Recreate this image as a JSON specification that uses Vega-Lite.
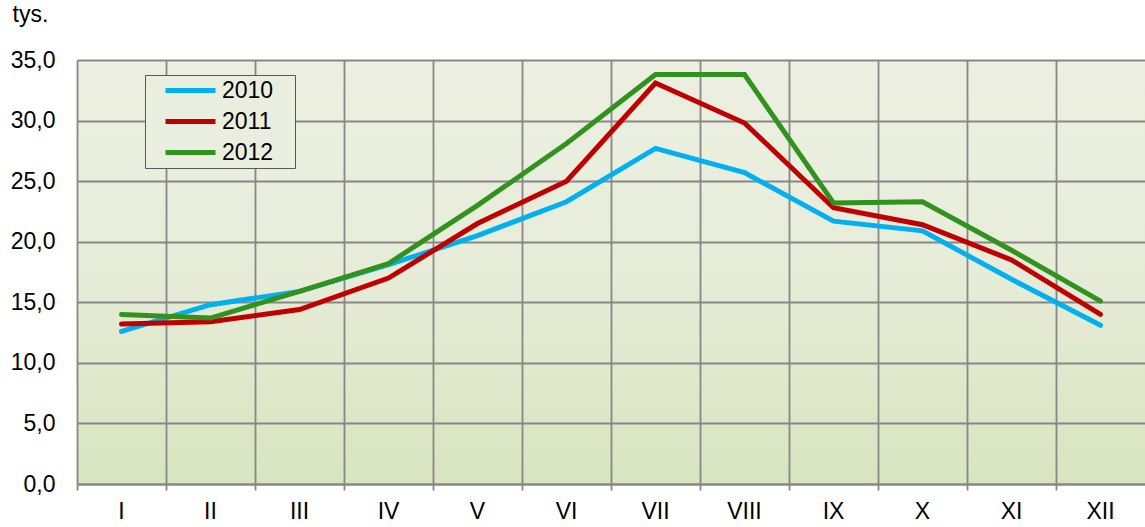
{
  "$schema": "https://vega.github.io/schema/vega-lite/v6.json",
  "width": 1068,
  "height": 424,
  "autosize": {"type": "none"},
  "padding": {"left": 77, "top": 60, "right": 0, "bottom": 43},
  "background": "#ffffff",
  "config": {
    "font": "Liberation Sans",
    "view": {
      "stroke": null,
      "fill": {
        "gradient": "linear",
        "x1": 0, "y1": 0, "x2": 0, "y2": 1,
        "stops": [
          {"offset": 0, "color": "#ECEFE1"},
          {"offset": 0.45, "color": "#E8EDDA"},
          {"offset": 1, "color": "#D8E4BF"}
        ]
      }
    }
  },
  "data": {
    "values": [
      {"month": "I", "year": "2010", "value": 12.6},
      {"month": "II", "year": "2010", "value": 14.8},
      {"month": "III", "year": "2010", "value": 15.9},
      {"month": "IV", "year": "2010", "value": 18.1},
      {"month": "V", "year": "2010", "value": 20.5},
      {"month": "VI", "year": "2010", "value": 23.3},
      {"month": "VII", "year": "2010", "value": 27.7},
      {"month": "VIII", "year": "2010", "value": 25.7},
      {"month": "IX", "year": "2010", "value": 21.7},
      {"month": "X", "year": "2010", "value": 20.9},
      {"month": "XI", "year": "2010", "value": 16.9},
      {"month": "XII", "year": "2010", "value": 13.1},
      {"month": "I", "year": "2011", "value": 13.2},
      {"month": "II", "year": "2011", "value": 13.4},
      {"month": "III", "year": "2011", "value": 14.4},
      {"month": "IV", "year": "2011", "value": 17.0},
      {"month": "V", "year": "2011", "value": 21.5},
      {"month": "VI", "year": "2011", "value": 25.0},
      {"month": "VII", "year": "2011", "value": 33.1},
      {"month": "VIII", "year": "2011", "value": 29.8},
      {"month": "IX", "year": "2011", "value": 22.8},
      {"month": "X", "year": "2011", "value": 21.4},
      {"month": "XI", "year": "2011", "value": 18.5},
      {"month": "XII", "year": "2011", "value": 14.0},
      {"month": "I", "year": "2012", "value": 14.0},
      {"month": "II", "year": "2012", "value": 13.7},
      {"month": "III", "year": "2012", "value": 15.9},
      {"month": "IV", "year": "2012", "value": 18.2},
      {"month": "V", "year": "2012", "value": 23.0},
      {"month": "VI", "year": "2012", "value": 28.1},
      {"month": "VII", "year": "2012", "value": 33.8},
      {"month": "VIII", "year": "2012", "value": 33.8},
      {"month": "IX", "year": "2012", "value": 23.2},
      {"month": "X", "year": "2012", "value": 23.3},
      {"month": "XI", "year": "2012", "value": 19.3},
      {"month": "XII", "year": "2012", "value": 15.1}
    ]
  },
  "mark": {"type": "line", "strokeWidth": 5, "strokeCap": "round", "strokeJoin": "miter"},
  "encoding": {
    "x": {
      "field": "month",
      "type": "nominal",
      "sort": null,
      "scale": {"type": "band", "paddingInner": 0, "paddingOuter": 0},
      "axis": {
        "title": null,
        "labelAngle": 0,
        "labelFontSize": 23,
        "labelColor": "#000000",
        "labelPadding": 10,
        "bandPosition": 0,
        "grid": true,
        "gridColor": "#878787",
        "gridWidth": 1.8,
        "gridOpacity": 1,
        "tickColor": "#878787",
        "tickWidth": 1.8,
        "tickSize": 6,
        "domainColor": "#878787",
        "domainWidth": 1.8
      }
    },
    "y": {
      "field": "value",
      "type": "quantitative",
      "scale": {"domain": [0, 35], "nice": false, "zero": true},
      "axis": {
        "values": [0, 5, 10, 15, 20, 25, 30, 35],
        "labelExpr": "replace(format(datum.value, '.1f'), '.', ',')",
        "labelFontSize": 23,
        "labelColor": "#000000",
        "labelPadding": 22,
        "ticks": false,
        "domain": false,
        "grid": true,
        "gridColor": "#878787",
        "gridWidth": 1.8,
        "gridOpacity": 1,
        "title": "tys.",
        "titleAngle": 0,
        "titleFontSize": 23,
        "titleFontWeight": "normal",
        "titleColor": "#000000",
        "titleAlign": "left",
        "titleBaseline": "alphabetic",
        "titleX": -65,
        "titleY": -39
      }
    },
    "color": {
      "field": "year",
      "type": "nominal",
      "scale": {"domain": ["2010", "2011", "2012"], "range": ["#00B0F0", "#C00000", "#32921E"]},
      "legend": {
        "title": null,
        "orient": "none",
        "legendX": 68,
        "legendY": 15,
        "direction": "vertical",
        "fillColor": "#EAEEDE",
        "strokeColor": "#595959",
        "padding": 3,
        "symbolType": "M0.5,0H5.5M12.1,0",
        "symbolSize": 400,
        "symbolStrokeWidth": 5,
        "labelFontSize": 23,
        "labelColor": "#000000",
        "labelOffset": 49,
        "rowPadding": 6
      }
    }
  }
}
